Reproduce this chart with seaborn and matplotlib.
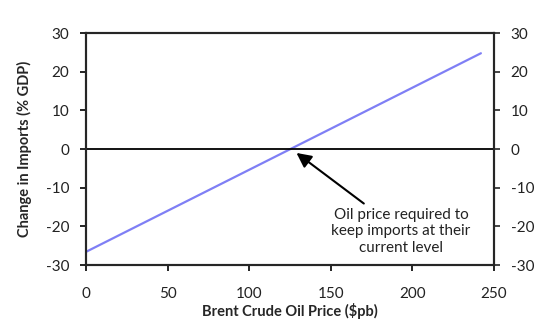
import matplotlib
matplotlib.use("Agg")
import matplotlib.pyplot as plt
import seaborn as sns
import pandas as pd

# Data
oil_price = [0, 242]
import_change = [-26.6, 24.8]
breakeven_price = 127

sns.set_style("ticks")
plt.rcParams['font.family'] = ['Lato', 'DejaVu Sans']
plt.rcParams['axes.unicode_minus'] = False

df = pd.DataFrame({"price": oil_price, "change": import_change})

fig, ax = plt.subplots(figsize=(5.44, 3.22), dpi=100)
sns.lineplot(data=df, x="price", y="change", color="#7f7ff5", linewidth=1.6, ax=ax)

# zero line
ax.axhline(0, color="black", linewidth=1.3)

ax.set_xlim(0, 250)
ax.set_ylim(-30, 30)
ax.set_xticks(range(0, 251, 50))
ax.set_yticks(range(-30, 31, 10))
ax.tick_params(labelsize=11, length=4, width=1.2, colors="black", labelcolor="#222222")
ax.tick_params(axis="y", pad=8)
ax.tick_params(axis="x", pad=12)
for s in ax.spines.values():
    s.set_linewidth(1.5)
    s.set_color("black")

ax.set_xlabel("Brent Crude Oil Price ($pb)", fontsize=10.5, fontweight="bold", labelpad=1)
ax.set_ylabel("Change in Imports (% GDP)", fontsize=10.5, fontweight="bold", labelpad=10)

ax2 = ax.twinx()
ax2.set_ylim(-30, 30)
ax2.set_yticks(range(-30, 31, 10))
ax2.tick_params(labelsize=11, length=4, width=1.2, labelcolor="#222222", pad=8)
for s in ax2.spines.values():
    s.set_linewidth(1.5)

ax.annotate("Oil price required to\nkeep imports at their\ncurrent level",
            xy=(breakeven_price + 2, -1), xytext=(193, -21.3),
            ha="center", va="center", fontsize=11, color="#222222",
            linespacing=1.25,
            arrowprops=dict(arrowstyle="-|>", color="black", lw=1.5,
                            mutation_scale=22, shrinkA=1, shrinkB=0))

fig.subplots_adjust(left=0.158, right=0.908, top=0.897, bottom=0.177)
fig.savefig("out.png", dpi=100)
